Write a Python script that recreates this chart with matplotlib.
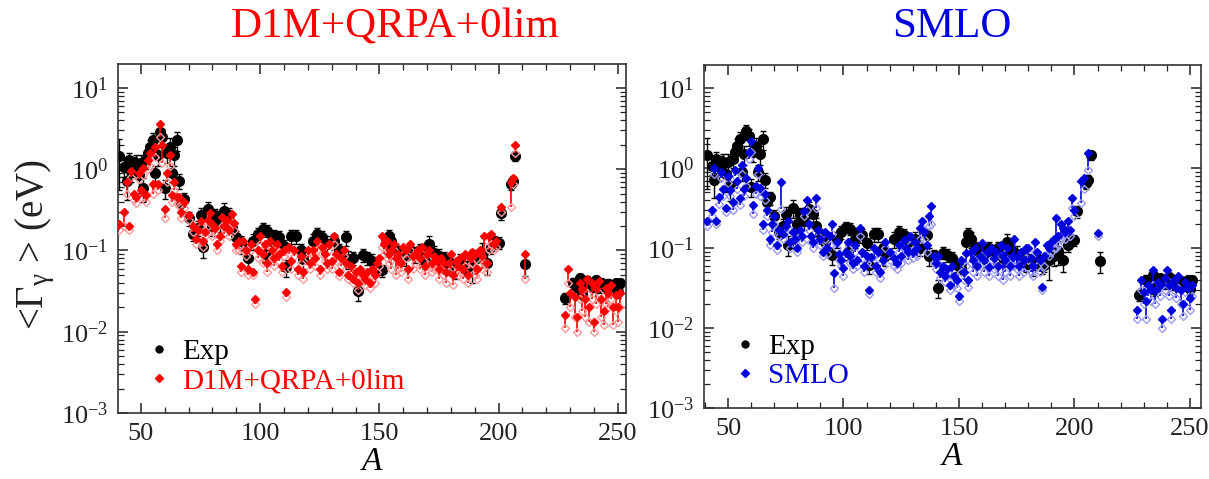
import numpy as np
import matplotlib.pyplot as plt
from matplotlib.lines import Line2D
from matplotlib.ticker import LogLocator, MultipleLocator, NullFormatter

plt.rcParams['font.family'] = ['Liberation Serif', 'DejaVu Serif']
plt.rcParams['mathtext.fontset'] = 'custom'
plt.rcParams['mathtext.rm'] = 'Liberation Serif'
plt.rcParams['mathtext.it'] = 'Liberation Serif:italic'

# experimental average radiative widths (eV)
exp_A = [41, 43, 44, 45, 46, 47, 48, 49, 50, 51, 52, 53, 54, 55, 56, 57, 58, 59, 60, 61,
         62, 63, 64, 65, 66, 67, 68, 70, 72, 74, 75, 76, 78, 80, 81, 83, 85, 87, 88, 90,
         92, 95, 97, 99, 101, 102, 103, 105, 106, 108, 110, 111, 113, 115, 117, 118, 122, 124, 126, 128,
         131, 133, 136, 137, 139, 141, 143, 145, 147, 149, 151, 153, 154, 155, 157, 159, 161, 163, 165, 167,
         169, 171, 173, 175, 177, 179, 180, 182, 184, 186, 187, 189, 191, 193, 195, 197, 198, 200, 201, 205,
         206, 207, 211, 228, 231, 233, 234, 235, 236, 237, 239, 240, 241, 242, 243, 244, 245, 246, 248, 249,
         250, 251]
exp_G = [1.45, 1.06, 0.72, 1.3, 0.95, 1.1, 1.2, 0.85, 1.2, 0.59, 1.3, 1.6, 1.9, 2.3, 0.9, 1.5, 2.9, 2.5, 0.58, 1.6,
         1.9, 0.9, 1.5, 2.3, 0.72, 0.38, 0.43, 0.25, 0.16, 0.19, 0.27, 0.11, 0.32, 0.2, 0.27, 0.22, 0.31, 0.27, 0.19, 0.145,
         0.12, 0.081, 0.13, 0.16, 0.185, 0.09, 0.175, 0.13, 0.15, 0.145, 0.115, 0.062, 0.15, 0.15, 0.1, 0.079, 0.13, 0.16, 0.145, 0.12,
         0.13, 0.1, 0.145, 0.079, 0.081, 0.032, 0.088, 0.082, 0.075, 0.062, 0.057, 0.12, 0.15, 0.13, 0.1, 0.092, 0.085, 0.1, 0.09, 0.1,
         0.075, 0.12, 0.092, 0.085, 0.081, 0.065, 0.07, 0.06, 0.075, 0.06, 0.062, 0.07, 0.08, 0.092, 0.07, 0.11, 0.13, 0.125, 0.29, 0.65,
         0.72, 1.45, 0.069, 0.026, 0.04, 0.036, 0.046, 0.03, 0.038, 0.042, 0.036, 0.04, 0.043, 0.035, 0.04, 0.038, 0.036, 0.039, 0.037, 0.04,
         0.031, 0.04]
exp_err = [0.9, 0.25, 0.3, 0.3, 0.25, 0.3, 0.3, 0.35, 0.3, 0.2, 0.3, 0.4, 0.4, 0.5, 0.2, 0.4, 0.6, 0.6, 0.15, 0.4,
           0.5, 0.2, 0.4, 0.6, 0.15, 0.08, 0.08, 0.05, 0.03, 0.04, 0.06, 0.03, 0.08, 0.05, 0.05, 0.05, 0.07, 0.06, 0.05, 0.03,
           0.03, 0.02, 0.03, 0.03, 0.03, 0.02, 0.03, 0.03, 0.03, 0.03, 0.02, 0.015, 0.03, 0.03, 0.02, 0.02, 0.03, 0.03, 0.03, 0.03,
           0.03, 0.02, 0.03, 0.02, 0.015, 0.008, 0.015, 0.015, 0.015, 0.012, 0.01, 0.03, 0.03, 0.03, 0.02, 0.02, 0.02, 0.02, 0.02, 0.02,
           0.015, 0.03, 0.02, 0.02, 0.015, 0.015, 0.015, 0.015, 0.015, 0.012, 0.012, 0.03, 0.02, 0.03, 0.02, 0.02, 0.02, 0.02, 0.05, 0.1,
           0.1, 0.2, 0.02, 0.004, 0.006, 0.005, 0.006, 0.005, 0.006, 0.006, 0.005, 0.006, 0.006, 0.005, 0.006, 0.005, 0.005, 0.005, 0.005, 0.005,
           0.005, 0.005]

# D1M+QRPA+0lim: upper / lower predictions (eV)
d1m_A = [41, 43, 44, 45, 46, 47, 48, 49, 50, 51, 52, 53, 54, 55, 56, 57, 58, 59, 60, 61,
         62, 63, 64, 65, 66, 67, 68, 70, 72, 73, 74, 75, 76, 77, 78, 79, 80, 81, 82, 83,
         84, 85, 86, 87, 88, 89, 90, 91, 92, 93, 94, 95, 96, 97, 98, 99, 100, 101, 102, 103,
         104, 105, 106, 107, 108, 109, 110, 111, 112, 113, 114, 116, 117, 118, 120, 121, 122, 123, 124, 125,
         126, 127, 128, 129, 130, 131, 132, 133, 134, 135, 136, 137, 138, 139, 140, 141, 142, 143, 144, 145,
         146, 147, 148, 149, 150, 151, 152, 153, 154, 155, 156, 157, 158, 159, 160, 161, 162, 163, 164, 165,
         166, 167, 168, 169, 170, 171, 172, 173, 174, 175, 176, 177, 178, 179, 180, 181, 182, 183, 184, 185,
         186, 187, 188, 189, 190, 191, 192, 193, 194, 195, 196, 197, 198, 199, 201, 205, 206, 207, 211, 228,
         229, 230, 232, 233, 234, 235, 236, 237, 238, 239, 240, 241, 242, 243, 244, 245, 246, 247, 248, 249,
         250, 251]
d1m_hi = [0.21, 0.3, 0.7, 0.2, 0.95, 0.5, 0.45, 0.9, 0.55, 1.05, 0.48, 1.3, 1.6, 0.65, 1.9, 0.65, 3.6, 2.0, 0.32, 0.9,
          1.5, 0.48, 0.7, 0.45, 0.45, 0.3, 0.4, 0.27, 0.2, 0.14, 0.18, 0.23, 0.13, 0.17, 0.24, 0.29, 0.21, 0.19, 0.12, 0.15,
          0.26, 0.2, 0.24, 0.18, 0.28, 0.22, 0.12, 0.13, 0.065, 0.13, 0.1, 0.06, 0.12, 0.055, 0.025, 0.1, 0.15, 0.09, 0.12, 0.07,
          0.13, 0.1, 0.08, 0.12, 0.09, 0.065, 0.1, 0.031, 0.11, 0.075, 0.1, 0.06, 0.085, 0.055, 0.1, 0.07, 0.1, 0.08, 0.13, 0.06,
          0.11, 0.09, 0.07, 0.12, 0.075, 0.15, 0.09, 0.055, 0.08, 0.1, 0.07, 0.05, 0.065, 0.045, 0.055, 0.04, 0.06, 0.05, 0.045, 0.055,
          0.04, 0.06, 0.05, 0.07, 0.08, 0.15, 0.12, 0.13, 0.09, 0.1, 0.12, 0.08, 0.09, 0.07, 0.11, 0.1, 0.06, 0.12, 0.085, 0.09,
          0.1, 0.08, 0.11, 0.065, 0.09, 0.1, 0.07, 0.085, 0.075, 0.06, 0.08, 0.07, 0.055, 0.07, 0.09, 0.05, 0.075, 0.065, 0.08, 0.06,
          0.09, 0.05, 0.08, 0.095, 0.09, 0.06, 0.1, 0.085, 0.15, 0.07, 0.15, 0.16, 0.12, 0.13, 0.34, 0.7, 0.78, 2.0, 0.09, 0.016,
          0.06, 0.03, 0.027, 0.015, 0.04, 0.034, 0.025, 0.045, 0.02, 0.04, 0.013, 0.035, 0.042, 0.025, 0.018, 0.035, 0.03, 0.038, 0.02, 0.028,
          0.02, 0.03]
d1m_lo = [0.18, 0.2, 0.5, 0.18, 0.8, 0.42, 0.38, 0.75, 0.45, 0.85, 0.4, 1.0, 1.1, 0.5, 1.4, 0.55, 2.5, 1.2, 0.25, 0.7,
          1.1, 0.4, 0.55, 0.38, 0.35, 0.25, 0.33, 0.24, 0.17, 0.12, 0.15, 0.2, 0.11, 0.15, 0.2, 0.22, 0.15, 0.16, 0.1, 0.13,
          0.2, 0.16, 0.2, 0.15, 0.22, 0.18, 0.1, 0.1, 0.055, 0.1, 0.085, 0.05, 0.1, 0.05, 0.022, 0.08, 0.12, 0.07, 0.1, 0.055,
          0.11, 0.08, 0.065, 0.1, 0.075, 0.055, 0.085, 0.027, 0.09, 0.06, 0.085, 0.05, 0.07, 0.045, 0.08, 0.06, 0.085, 0.065, 0.1, 0.05,
          0.09, 0.075, 0.06, 0.1, 0.06, 0.12, 0.075, 0.048, 0.065, 0.085, 0.06, 0.045, 0.055, 0.04, 0.045, 0.033, 0.05, 0.042, 0.038, 0.045,
          0.035, 0.05, 0.04, 0.055, 0.065, 0.11, 0.09, 0.08, 0.07, 0.06, 0.1, 0.05, 0.06, 0.055, 0.09, 0.08, 0.045, 0.1, 0.06, 0.07,
          0.08, 0.06, 0.09, 0.05, 0.065, 0.08, 0.055, 0.06, 0.06, 0.045, 0.06, 0.05, 0.04, 0.055, 0.06, 0.038, 0.055, 0.05, 0.055, 0.045,
          0.065, 0.04, 0.06, 0.07, 0.05, 0.045, 0.07, 0.06, 0.07, 0.055, 0.1, 0.12, 0.1, 0.11, 0.3, 0.34, 0.65, 1.6, 0.045, 0.011,
          0.04, 0.02, 0.015, 0.01, 0.025, 0.018, 0.015, 0.03, 0.013, 0.025, 0.01, 0.022, 0.03, 0.015, 0.012, 0.022, 0.02, 0.025, 0.012, 0.018,
          0.013, 0.02]

# SMLO: upper / lower predictions (eV)
smlo_A = [41, 43, 44, 45, 46, 47, 48, 49, 50, 51, 52, 53, 54, 55, 56, 57, 58, 59, 60, 61,
          62, 63, 64, 65, 66, 67, 68, 69, 70, 71, 72, 73, 74, 75, 76, 77, 78, 79, 80, 81,
          82, 83, 84, 85, 86, 87, 88, 89, 90, 91, 92, 93, 94, 95, 96, 97, 98, 99, 100, 101,
          102, 103, 104, 105, 106, 107, 108, 109, 110, 111, 112, 113, 114, 115, 116, 117, 118, 120, 122, 123,
          124, 125, 126, 127, 128, 129, 130, 131, 132, 133, 134, 135, 136, 137, 138, 139, 140, 141, 142, 143,
          144, 145, 146, 147, 148, 149, 150, 151, 152, 153, 154, 155, 156, 157, 158, 159, 160, 161, 162, 163,
          164, 165, 166, 167, 168, 169, 170, 171, 172, 173, 174, 175, 176, 177, 178, 179, 180, 181, 182, 183,
          184, 185, 186, 187, 188, 189, 190, 191, 192, 193, 194, 195, 196, 197, 198, 199, 200, 203, 204, 206,
          210, 227, 229, 230, 231, 232, 233, 234, 235, 236, 237, 238, 239, 240, 241, 242, 243, 244, 245, 246,
          247, 248, 249, 250, 251]
smlo_hi = [0.22, 0.3, 1.0, 0.22, 0.43, 0.9, 0.55, 0.32, 0.8, 0.53, 0.38, 0.95, 0.7, 0.42, 1.1, 0.55, 0.75, 1.6, 2.2, 0.35,
           0.6, 1.0, 0.56, 0.2, 0.48, 0.3, 0.13, 0.2, 0.25, 0.11, 0.17, 0.68, 0.15, 0.19, 0.22, 0.12, 0.16, 0.13, 0.1, 0.17,
           0.14, 0.29, 0.4, 0.2, 0.14, 0.12, 0.42, 0.17, 0.13, 0.09, 0.16, 0.1, 0.14, 0.2, 0.049, 0.12, 0.085, 0.07, 0.056, 0.09,
           0.12, 0.08, 0.065, 0.11, 0.07, 0.18, 0.09, 0.06, 0.08, 0.03, 0.078, 0.1, 0.06, 0.09, 0.05, 0.07, 0.12, 0.09, 0.075, 0.065,
           0.11, 0.08, 0.125, 0.1, 0.09, 0.14, 0.09, 0.12, 0.1, 0.18, 0.22, 0.16, 0.11, 0.25, 0.34, 0.08, 0.065, 0.08, 0.05, 0.06,
           0.045, 0.055, 0.035, 0.06, 0.045, 0.04, 0.025, 0.07, 0.05, 0.087, 0.04, 0.09, 0.07, 0.1, 0.06, 0.08, 0.115, 0.07, 0.09, 0.058,
           0.1, 0.075, 0.09, 0.06, 0.11, 0.083, 0.07, 0.1, 0.06, 0.08, 0.13, 0.078, 0.06, 0.09, 0.07, 0.1, 0.1, 0.075, 0.06, 0.12,
           0.09, 0.07, 0.033, 0.08, 0.11, 0.1, 0.12, 0.13, 0.24, 0.14, 0.2, 0.18, 0.16, 0.22, 0.17, 0.42, 0.3, 0.7, 0.75, 1.55,
           0.155, 0.017, 0.04, 0.028, 0.022, 0.035, 0.03, 0.053, 0.03, 0.038, 0.035, 0.013, 0.042, 0.053, 0.035, 0.017, 0.04, 0.032, 0.045, 0.03,
           0.02, 0.038, 0.032, 0.024, 0.035]
smlo_lo = [0.19, 0.25, 0.85, 0.2, 0.36, 0.75, 0.45, 0.28, 0.65, 0.45, 0.3, 0.8, 0.55, 0.35, 0.85, 0.45, 0.6, 1.3, 1.6, 0.27,
           0.48, 0.85, 0.45, 0.17, 0.4, 0.25, 0.11, 0.16, 0.2, 0.095, 0.14, 0.31, 0.13, 0.16, 0.18, 0.1, 0.13, 0.11, 0.09, 0.14,
           0.12, 0.25, 0.3, 0.17, 0.12, 0.1, 0.32, 0.14, 0.11, 0.08, 0.13, 0.085, 0.11, 0.15, 0.032, 0.1, 0.07, 0.06, 0.045, 0.075,
           0.1, 0.065, 0.055, 0.09, 0.06, 0.14, 0.075, 0.05, 0.065, 0.027, 0.065, 0.08, 0.05, 0.075, 0.042, 0.06, 0.1, 0.07, 0.06, 0.055,
           0.09, 0.065, 0.1, 0.085, 0.07, 0.11, 0.075, 0.1, 0.08, 0.13, 0.18, 0.13, 0.09, 0.19, 0.2, 0.065, 0.055, 0.065, 0.042, 0.05,
           0.038, 0.045, 0.03, 0.045, 0.035, 0.032, 0.022, 0.05, 0.04, 0.06, 0.033, 0.065, 0.05, 0.07, 0.045, 0.06, 0.08, 0.05, 0.065, 0.045,
           0.07, 0.055, 0.06, 0.045, 0.08, 0.04, 0.05, 0.07, 0.045, 0.06, 0.06, 0.055, 0.045, 0.065, 0.05, 0.075, 0.07, 0.05, 0.045, 0.09,
           0.06, 0.05, 0.03, 0.06, 0.085, 0.08, 0.09, 0.1, 0.1, 0.11, 0.13, 0.14, 0.13, 0.15, 0.14, 0.32, 0.25, 0.37, 0.55, 0.95,
           0.14, 0.013, 0.03, 0.02, 0.013, 0.025, 0.022, 0.035, 0.02, 0.03, 0.025, 0.01, 0.03, 0.04, 0.025, 0.013, 0.03, 0.024, 0.032, 0.02,
           0.014, 0.028, 0.022, 0.017, 0.025]

panels = [
    dict(name='D1M+QRPA+0lim', A=d1m_A, hi=d1m_hi, lo=d1m_lo, color='#ff0000', light='#ff9a9a',
         rect=[118 / 1209, 1 - 413 / 479, 508 / 1209, 349 / 479], xlim=(40.4, 253.4), ylim=(1e-3, 10**1.295),
         title_x=395 / 1209),
    dict(name='SMLO', A=smlo_A, hi=smlo_hi, lo=smlo_lo, color='#0000dd', light='#9a9af0',
         rect=[704 / 1209, 1 - 408 / 479, 497 / 1209, 343 / 479], xlim=(39.6, 254.8), ylim=(1e-3, 10**1.29),
         title_x=952 / 1209),
]

fig = plt.figure(figsize=(12.09, 4.79), dpi=100)

for p in panels:
    ax = fig.add_axes(p['rect'])
    ax.set_yscale('log')

    ax.errorbar(exp_A, exp_G, yerr=exp_err, fmt='o', color='black', ms=7,
                elinewidth=1.0, capsize=2.5, capthick=1.0, zorder=2)

    ax.vlines(p['A'], p['lo'], p['hi'], color=p['color'], lw=1.2, zorder=3)
    ax.plot(p['A'], p['lo'], 'D', ms=4.5, mfc='none', mec=p['light'], mew=1.0, zorder=3)
    ax.plot(p['A'], p['hi'], 'D', ms=4.5, color=p['color'], zorder=4)

    ax.set_xlim(*p['xlim'])
    ax.set_ylim(*p['ylim'])
    ax.xaxis.set_major_locator(MultipleLocator(50))
    ax.xaxis.set_minor_locator(MultipleLocator(10))
    ax.yaxis.set_major_locator(LogLocator(base=10, numticks=10))
    ax.yaxis.set_minor_locator(LogLocator(base=10, subs=np.arange(2, 10), numticks=10))
    ax.yaxis.set_minor_formatter(NullFormatter())
    ax.tick_params(which='both', direction='in', top=True, right=True, labelsize=19, colors='#222222')
    ax.tick_params(which='major', length=7, width=1.1, pad=7)
    ax.tick_params(which='minor', length=4, width=0.9)
    for s in ax.spines.values():
        s.set_linewidth(1.2)
        s.set_color('#333333')

    ax.set_xlabel('$A$', fontsize=24, labelpad=1)

    handles = [Line2D([], [], ls='none', marker='o', color='black', ms=5),
               Line2D([], [], ls='none', marker='D', color=p['color'], ms=4)]
    leg = ax.legend(handles, ['Exp', p['name']], loc='lower left', frameon=False, fontsize=21,
                    handlelength=0.8, handletextpad=0.4, borderaxespad=0.0, labelspacing=0.1,
                    bbox_to_anchor=(0.035, 0.02))
    leg.get_texts()[1].set_color(p['color'])

    fig.text(p['title_x'], 1 - 27 / 479, p['name'], color=p['color'], fontsize=31,
             ha='center', va='center')

fig.text(35 / 1209, 1 - 245 / 479, r'<$\Gamma_{\mathrm{\gamma}}$ > (eV)', rotation=90, fontsize=28,
         ha='center', va='center', color='#222222')

fig.savefig('out.png', dpi=100)
